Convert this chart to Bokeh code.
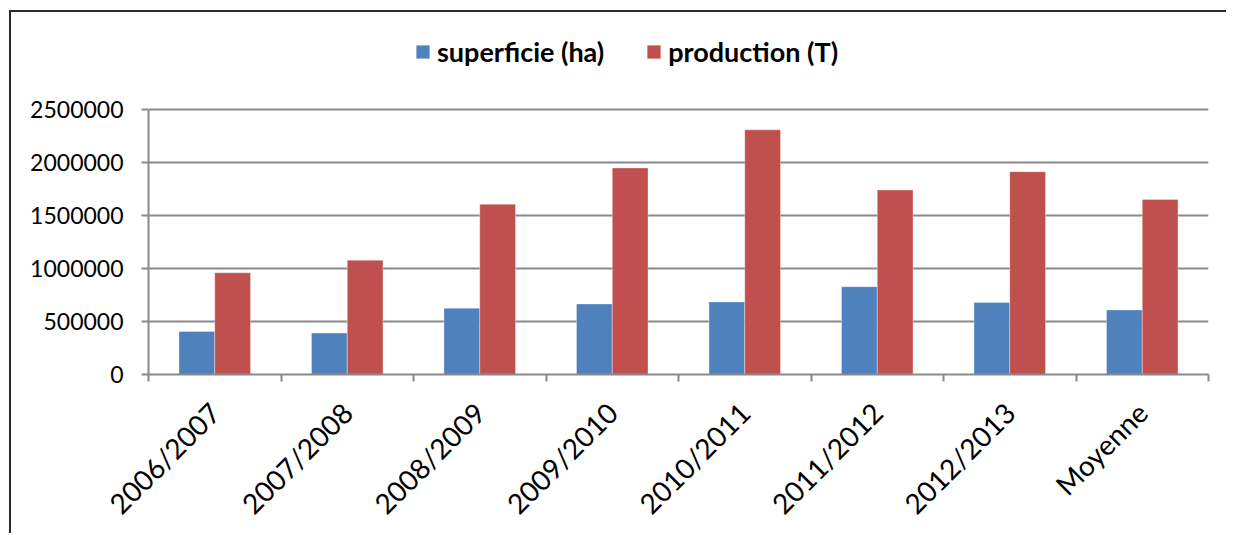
import math
from bokeh.plotting import figure
from bokeh.models import ColumnDataSource, FixedTicker, Legend, LegendItem, Range1d
from bokeh.transform import dodge
from bokeh.embed import file_html
from bokeh.resources import INLINE

categories = ["2006/2007", "2007/2008", "2008/2009", "2009/2010",
              "2010/2011", "2011/2012", "2012/2013", "Moyenne"]
superficie = [406000, 391000, 625000, 665000, 684000, 828000, 678000, 609000]
production = [959000, 1078000, 1605000, 1947000, 2306000, 1740000, 1912000, 1650000]
y_ticks = [0, 500000, 1000000, 1500000, 2000000, 2500000]

BLUE = "#4F81BD"
RED = "#C0504D"
GRID = "#8a8a8a"
FONT = "Lato"

xc = [i + 0.5 for i in range(len(categories))]
src = ColumnDataSource(dict(x=xc, sup=superficie, prod=production, cat=categories))

W, H = 1224, 523
FL, FR, FT, FB = 137, 1197, 20, 363          # frame edges in canvas px
Y_TOP_PX = 97                                  # pixel row of 2 500 000
y_max = y_ticks[-1]
y_end = y_max * (FB - FT) / (FB - Y_TOP_PX)

p = figure(width=W, height=H, output_backend="svg", toolbar_location=None,
           x_range=Range1d(0, len(categories)), y_range=Range1d(0, y_end),
           min_border_left=FL, min_border_right=W - FR,
           min_border_top=FT, min_border_bottom=H - FB)
p.styles = {"border-left": "2px solid #2a2a2a", "border-top": "2px solid #2a2a2a",
            "margin-top": "10px", "margin-left": "9px",
            "clip-path": "inset(0px 7px 0px 0px)"}
p.outline_line_color = None
p.background_fill_color = "white"
p.border_fill_color = "white"

bw = 0.27
r1 = p.vbar(x=dodge("x", -bw / 2, range=p.x_range), top="sup", width=bw, source=src,
            fill_color=BLUE, line_color="white", line_alpha=0.35, line_width=1)
r2 = p.vbar(x=dodge("x", bw / 2, range=p.x_range), top="prod", width=bw, source=src,
            fill_color=RED, line_color="white", line_alpha=0.35, line_width=1)

# x axis
xa = p.xaxis[0]
xa.ticker = FixedTicker(ticks=xc, minor_ticks=list(range(len(categories) + 1)))
xa.major_label_overrides = {v: c for v, c in zip(xc, categories)}
xa.major_tick_out = 0
xa.major_tick_in = 0
xa.minor_tick_out = 7
xa.minor_tick_in = 0
xa.minor_tick_line_color = GRID
xa.minor_tick_line_width = 2
xa.axis_line_color = GRID
xa.axis_line_width = 2
xa.major_label_orientation = math.pi / 4
xa.major_label_text_font = FONT
xa.major_label_text_font_size = "28px"
xa.major_label_text_color = "black"
xa.major_label_standoff = 26

# y axis
ya = p.yaxis[0]
ya.ticker = FixedTicker(ticks=y_ticks)
ya.bounds = (0, y_max)
ya.formatter.use_scientific = False
ya.major_tick_out = 7
ya.major_tick_in = 0
ya.minor_tick_line_color = None
ya.major_tick_line_color = GRID
ya.major_tick_line_width = 2
ya.axis_line_color = GRID
ya.axis_line_width = 2
ya.major_label_text_font = FONT
ya.major_label_text_font_size = "23px"
ya.major_label_text_color = "black"
ya.major_label_standoff = 18

p.xgrid.grid_line_color = None
p.ygrid.ticker = FixedTicker(ticks=y_ticks)
p.ygrid.grid_line_color = GRID
p.ygrid.grid_line_width = 2

legend = Legend(items=[LegendItem(label="superficie (ha)", renderers=[r1]),
                       LegendItem(label="production (T)", renderers=[r2])],
                orientation="horizontal", location=(266, 306),
                glyph_width=17, glyph_height=17, label_standoff=6, spacing=41,
                padding=0, margin=0, border_line_color=None,
                background_fill_alpha=0,
                label_text_font=FONT, label_text_font_size="27px",
                label_text_font_style="bold", label_text_color="black")
p.add_layout(legend, "center")

open("out.html", "w").write(file_html(p, INLINE))
